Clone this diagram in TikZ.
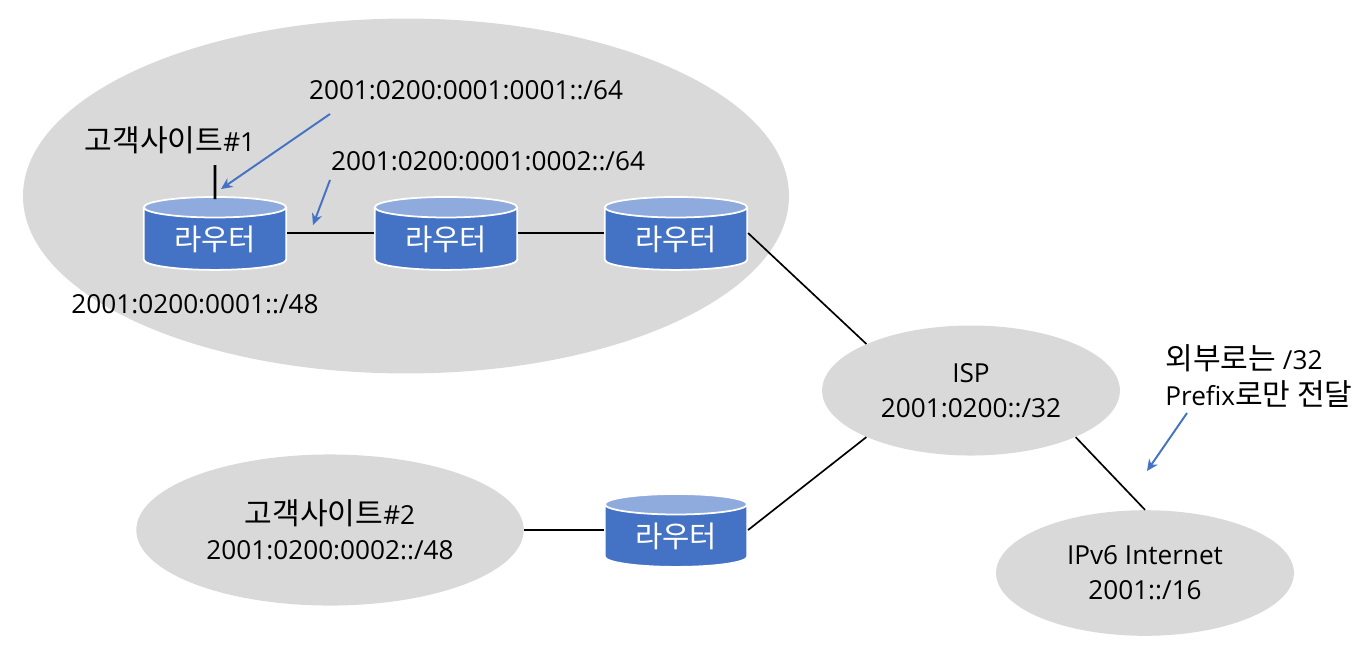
\documentclass[tikz,border=0pt]{standalone}
\usepackage{fontspec}
\setmainfont{Open Sans}
\newfontfamily\kr[Scale=1.15]{Noto Sans CJK KR}
\usetikzlibrary{shapes.geometric,arrows.meta}
\definecolor{sitegray}{RGB}{217,217,217}
\definecolor{routerblue}{RGB}{68,114,196}
\definecolor{routertop}{RGB}{143,170,220}
\tikzset{
  site/.style={ellipse,fill=sitegray,inner sep=0pt,align=center,font=\fontsize{14.9}{20}\selectfont},
  router/.style={cylinder,shape border rotate=90,shape aspect=0.25,draw=white,line width=1pt,
    cylinder uses custom fill,cylinder body fill=routerblue,cylinder end fill=routertop,
    minimum width=81pt,minimum height=41.5pt,inner sep=0pt,text=white,font=\kr\fontsize{14.7}{18}\selectfont},
  txt/.style={inner sep=0pt,align=left,font=\fontsize{14.9}{20.5}\selectfont},
  link/.style={black,line width=0.95pt},
  note/.style={routerblue,line width=1.1pt,-{Stealth[length=6.5pt,width=6pt]}}
}
\begin{document}
\begin{tikzpicture}[x=0.02cm,y=-0.02cm]
\useasboundingbox (0,0) rectangle (1369,654);

\node (siteA) at (406,196) [site,minimum width=436pt,minimum height=202pt]{};
\node (siteB) at (330,530) [site,minimum width=220.5pt,minimum height=86pt]{{\kr 고객사이트}\#2\\2001:0200:0002::/48};
\node (isp) at (971,390.5) [site,minimum width=169.5pt,minimum height=74pt]{ISP\\2001:0200::/32};
\node (net) at (1145,573) [site,minimum width=169.5pt,minimum height=71.5pt]{IPv6 Internet\\2001::/16};

\node (r1) at (215,239) [router]{라우터};
\node (r2) at (446,239) [router]{라우터};
\node (r3) at (676,239) [router]{라우터};
\node (r4) at (676,536) [router]{라우터};

\node (siteAname) at (170,140) [txt]{{\kr 고객사이트}\#1};
\node (lanA) at (466,90) [txt]{2001:0200:0001:0001::/64};
\node (lanB) at (488,161) [txt]{2001:0200:0001:0002::/64};
\node (prefixA) at (195,304) [txt]{2001:0200:0001::/48};
\node (extern) at (1259,376) [txt]{{\kr 외부로는} /32\\Prefix{\kr 로만 전달}};

\coordinate (stub) at (215,165);
\coordinate (lanAs) at (330,114);
\coordinate (lanAe) at (221,189);
\coordinate (lanBs) at (330,180);
\coordinate (lanBe) at (313,225);
\coordinate (externs) at (1187,413);
\coordinate (externe) at (1147,471);

\draw[black,line width=1.7pt] (stub)--([yshift=-1.7pt]r1.north);
\draw[link] ([yshift=3.4pt]r1.east)--([yshift=3.4pt]r2.west);
\draw[link] ([yshift=3.4pt]r2.east)--([yshift=3.4pt]r3.west);
\draw[link] ([yshift=3.4pt]r3.east)--(isp.156);
\draw[link] ([yshift=3.4pt]r4.east)--(isp.204);
\draw[link] (siteB.east)--([yshift=3.4pt]r4.west);
\draw[link] (isp.-24)--(net.north);

\draw[note] (lanAs)--(lanAe);
\draw[note] (lanBs)--(lanBe);
\draw[note] (externs)--(externe);

\end{tikzpicture}
\end{document}
